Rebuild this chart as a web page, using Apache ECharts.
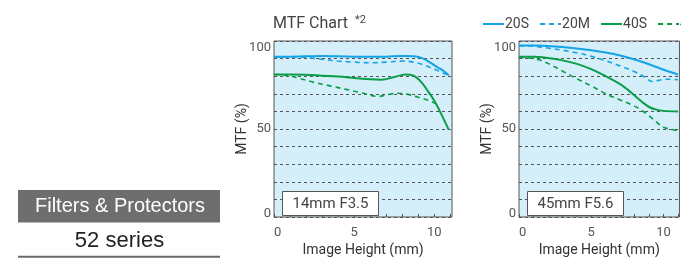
<!DOCTYPE html>
<html><head><meta charset="utf-8">
<script src="https://cdn.jsdelivr.net/npm/echarts@6/dist/echarts.min.js"></script>
<style>html,body{margin:0;padding:0;background:#fff}#c{width:681px;height:262px}</style>
</head><body><div id="c"></div>
<script>
// ---- data ----
const seriesNames = ['20S', '20M', '40S', '40M'];
const lensLabels = ['14mm F3.5', '45mm F5.6'];
const xTickLabels = [0, 5, 10];
const yTickLabels = [0, 50, 100];
const sideTitle = 'Filters & Protectors';
const sideSub = '52 series';

const s14_20S = [[0,91],[1,91.1],[2,91.3],[3,91.5],[4,91.3],[5,91.1],[6,91],[7,91.1],[8,91.5],[8.7,91.4],[9.2,90.4],[9.7,88],[10.2,85],[10.6,82.8],[10.9,80.5]];
const s14_20M = [[0,91],[1,91],[2,90.6],[3,89.6],[4,88.6],[5,88],[6,87.6],[7,88],[8,88.6],[8.7,88],[9.3,86.5],[10,84],[10.5,82],[10.9,80.5]];
const s14_40S = [[0,81],[1,81],[2,80.8],[3,80.3],[4,79.8],[5,79],[6,78.2],[6.7,78],[7.5,79.5],[8.2,81],[8.7,80.3],[9.2,76.5],[9.6,71.5],[10,66],[10.4,59],[10.9,49.5]];
const s14_40M = [[0,81],[0.8,80.5],[1.5,79],[2.5,76.5],[3.5,74.5],[4.5,72.5],[5.5,70.5],[6.5,68.5],[7,69.3],[7.7,70.3],[8.3,69.8],[9,68],[9.7,66],[10.3,63.5]];

const s45_20S = [[0,97.5],[1,97.5],[2,97.2],[3,96.6],[4,95.8],[5,94.8],[6,93.5],[7,91.8],[8,89.5],[9,86.8],[10,83.7],[11,81]];
const s45_20M = [[0,97.3],[1,97],[2,96],[3,94.8],[4,93.3],[5,91.3],[6,88.8],[7,85.8],[8,82.5],[8.7,79.5],[9.2,77],[9.6,77.5],[10.2,78.3],[11,78]];
const s45_40S = [[0,91],[1,91],[2,90.3],[3,89],[4,87],[5,84],[6,80],[7,75.5],[7.5,72.5],[8,69],[8.5,65.5],[9,62.5],[9.5,61],[10,60.3],[11,60]];
const s45_40M = [[0,90.8],[1,90],[1.5,89],[2,87.3],[3,83],[4,78.5],[5,74.5],[6,70],[7,66.5],[8,63],[8.5,60.5],[9,57.5],[9.5,54],[10,51],[11,49]];

const panels = [[s14_20S, s14_20M, s14_40S, s14_40M], [s45_20S, s45_20M, s45_40S, s45_40M]];

// ---- styling ----
const BLUE = '#12a4e6', GREEN = '#0a9e48';
const colors = [BLUE, BLUE, GREEN, GREEN];
const dashed = [false, true, false, true];
const FONT = 'Roboto';
const gridLefts = [274, 519];
const GRID_TOP = 41, GRID_W = 178, GRID_H = 181;

const chart = echarts.init(document.getElementById('c'), null, {renderer: 'canvas'});

const grids = gridLefts.map(l => ({
  left: l, top: GRID_TOP, width: GRID_W, height: GRID_H,
  show: true, backgroundColor: '#d4eefa', borderColor: '#555', borderWidth: 1
}));

const xAxes = gridLefts.map((l, i) => ({
  type: 'value', gridIndex: i, min: 0, max: 11.1, interval: 1,
  name: 'Image Height (mm)', nameLocation: 'middle', nameGap: 26, nameMoveOverlap: false,
  nameTextStyle: {fontFamily: FONT, fontSize: 14, color: '#333'},
  axisLine: {show: false},
  axisTick: {show: true, inside: true, length: 3, lineStyle: {color: '#555'}},
  splitLine: {show: false},
  axisLabel: {
    fontFamily: FONT, fontSize: 13, color: '#555', margin: 9,
    showMaxLabel: false, alignMinLabel: 'left', hideOverlap: false,
    formatter: v => xTickLabels.includes(v) ? String(v) : ''
  }
}));

const yAxes = gridLefts.map((l, i) => ({
  type: 'value', gridIndex: i, min: 0, max: 100, interval: 10,
  name: 'MTF (%)', nameLocation: 'middle', nameGap: 25, nameRotate: 90, nameMoveOverlap: false,
  nameTextStyle: {fontFamily: FONT, fontSize: 14, color: '#333'},
  axisLine: {show: false}, axisTick: {show: false},
  splitLine: {show: true, lineStyle: {color: '#555', type: [3, 3], width: 1}},
  axisLabel: {
    fontFamily: FONT, fontSize: 13, color: '#555', margin: 3, hideOverlap: false,
    formatter: v => {
      if (!yTickLabels.includes(v)) return '';
      if (v === yTickLabels[0]) return '{lo|' + v + '}';
      if (v === yTickLabels[yTickLabels.length - 1]) return '{hi|' + v + '}';
      return String(v);
    },
    rich: {
      lo: {fontFamily: FONT, fontSize: 13, color: '#555', padding: [0, 0, 6, 0]},
      hi: {fontFamily: FONT, fontSize: 13, color: '#555', padding: [13, 0, 0, 0]}
    }
  }
}));

const series = [];
panels.forEach((sets, gi) => {
  sets.forEach((data, si) => {
    series.push({
      type: 'line', name: seriesNames[si], data: data,
      xAxisIndex: gi, yAxisIndex: gi,
      smooth: 0.35, symbol: 'none', showSymbol: false,
      z: 3 + (dashed[si] ? 0 : 1),
      lineStyle: {color: colors[si], width: dashed[si] ? 1.6 : 2, type: dashed[si] ? [5, 4] : 'solid'},
      itemStyle: {color: colors[si]}
    });
  });
});

const graphics = [
  {type: 'text', x: 273, y: 24, style: {text: 'MTF Chart', fill: '#444', font: '16px Roboto', textVerticalAlign: 'middle'}},
  {type: 'text', x: 355, y: 20.5, style: {text: '*2', fill: '#444', font: '11px Roboto', textVerticalAlign: 'middle'}},
  {type: 'rect', shape: {x: 18, y: 190, width: 202, height: 32.5}, style: {fill: '#6e6e6e'}},
  {type: 'text', x: 120, y: 206.5, style: {text: sideTitle, fill: '#fff', font: '20px "Liberation Sans", Arial, sans-serif', textAlign: 'center', textVerticalAlign: 'middle'}},
  {type: 'text', x: 119.5, y: 240.5, style: {text: sideSub, fill: '#222', font: '22px "Liberation Sans", Arial, sans-serif', textAlign: 'center', textVerticalAlign: 'middle'}},
  {type: 'rect', shape: {x: 18, y: 255.7, width: 202, height: 2}, style: {fill: '#6a6a6a'}}
];
gridLefts.forEach((l, i) => {
  graphics.push({type: 'rect', z: 10, shape: {x: l + 8.5, y: 191.5, width: 96, height: 24}, style: {fill: '#fff', stroke: '#555', lineWidth: 1}});
  graphics.push({type: 'text', z: 11, x: l + 56.5, y: 203.8, style: {text: lensLabels[i], fill: '#444', font: '15px Roboto', textAlign: 'center', textVerticalAlign: 'middle'}});
});

chart.setOption({
  animation: false,
  backgroundColor: '#fff',
  grid: grids,
  xAxis: xAxes,
  yAxis: yAxes,
  legend: {
    data: seriesNames, left: 482, top: 17, width: 400, orient: 'horizontal', padding: 0,
    itemWidth: 21, itemHeight: 14, itemGap: 10,
    itemStyle: {opacity: 0},
    textStyle: {fontFamily: FONT, fontSize: 14, color: '#444', padding: [0, 0, 0, -4]}
  },
  graphic: graphics,
  series: series
});
</script>
</body></html>
